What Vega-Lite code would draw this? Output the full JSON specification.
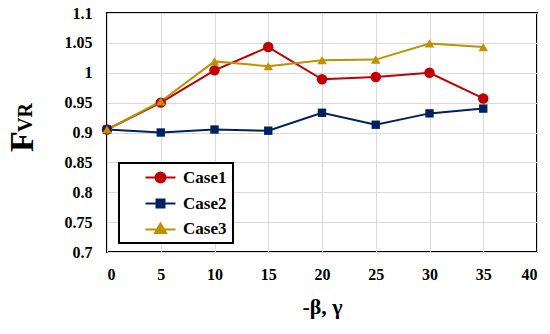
{
  "$schema": "https://vega.github.io/schema/vega-lite/v6.json",
  "width": 430,
  "height": 239,
  "autosize": {"type": "none"},
  "padding": {"left": 107, "top": 13, "right": 13, "bottom": 82},
  "background": "white",
  "config": {
    "view": {"stroke": "black", "strokeWidth": 2},
    "font": "Liberation Serif"
  },
  "data": {
    "values": [
      {"x": 0, "y": 0.905, "c": "Case1"},
      {"x": 5, "y": 0.950, "c": "Case1"},
      {"x": 10, "y": 1.004, "c": "Case1"},
      {"x": 15, "y": 1.043, "c": "Case1"},
      {"x": 20, "y": 0.989, "c": "Case1"},
      {"x": 25, "y": 0.993, "c": "Case1"},
      {"x": 30, "y": 1.000, "c": "Case1"},
      {"x": 35, "y": 0.957, "c": "Case1"},
      {"x": 0, "y": 0.905, "c": "Case2"},
      {"x": 5, "y": 0.900, "c": "Case2"},
      {"x": 10, "y": 0.905, "c": "Case2"},
      {"x": 15, "y": 0.903, "c": "Case2"},
      {"x": 20, "y": 0.933, "c": "Case2"},
      {"x": 25, "y": 0.913, "c": "Case2"},
      {"x": 30, "y": 0.932, "c": "Case2"},
      {"x": 35, "y": 0.940, "c": "Case2"},
      {"x": 0, "y": 0.905, "c": "Case3"},
      {"x": 5, "y": 0.952, "c": "Case3"},
      {"x": 10, "y": 1.019, "c": "Case3"},
      {"x": 15, "y": 1.011, "c": "Case3"},
      {"x": 20, "y": 1.021, "c": "Case3"},
      {"x": 25, "y": 1.022, "c": "Case3"},
      {"x": 30, "y": 1.049, "c": "Case3"},
      {"x": 35, "y": 1.043, "c": "Case3"}
    ]
  },
  "resolve": {"axis": {"y": "independent"}},
  "layer": [
    {
      "mark": {"type": "line", "strokeWidth": 2},
      "encoding": {
        "x": {
          "field": "x", "type": "quantitative",
          "scale": {"domain": [0, 40], "nice": false},
          "axis": {
            "values": [0, 5, 10, 15, 20, 25, 30, 35, 40],
            "title": "-β, γ",
            "titleFont": "Liberation Serif", "titleFontSize": 22, "titleFontWeight": "bold", "titleColor": "black",
            "titlePadding": 14,
            "labelFont": "Liberation Serif", "labelFontSize": 16, "labelFontWeight": "bold", "labelColor": "black",
            "labelPadding": 14, "ticks": false, "tickSize": 0, "domain": false,
            "grid": true, "gridColor": "#D9D9D9", "gridWidth": 1
          }
        },
        "y": {
          "field": "y", "type": "quantitative",
          "scale": {"domain": [0.7, 1.1], "nice": false, "zero": false},
          "axis": {
            "orient": "left",
            "values": [0.7, 0.75, 0.8, 0.85, 0.9, 0.95, 1, 1.05, 1.1],
            "format": "~g",
            "title": "F",
            "titleFont": "Liberation Serif", "titleFontSize": 34, "titleFontWeight": "bold", "titleColor": "black",
            "titleAngle": -90, "titleAlign": "center", "titleBaseline": "middle",
            "titleX": -85, "titleY": 128,
            "labelFont": "Liberation Serif", "labelFontSize": 16, "labelFontWeight": "bold", "labelColor": "black",
            "labelPadding": 15, "ticks": false, "tickSize": 0, "domain": false,
            "grid": true, "gridColor": "#D9D9D9", "gridWidth": 1
          }
        },
        "color": {
          "field": "c", "type": "nominal",
          "scale": {"domain": ["Case1", "Case2", "Case3"], "range": ["#C00000", "#002060", "#BF9000"]},
          "legend": {
            "title": null,
            "orient": "none", "legendX": 12, "legendY": 150,
            "padding": 6,
            "strokeColor": "black", "fillColor": "white",
            "labelFont": "Liberation Serif", "labelFontSize": 17, "labelFontWeight": "bold", "labelColor": "black",
            "symbolSize": 100, "symbolStrokeWidth": 2, "symbolOffset": 27, "labelOffset": 14,
            "rowPadding": 7,
            "encode": {
              "legend": {
                "update": {"strokeWidth": {"value": 2}}
              },
              "labels": {
                "update": {"text": {"signal": "datum.label + '\u2003\u2003\u2003'"}}
              },
              "symbols": {
                "update": {
                  "shape": {"signal": "datum.value == 'Case1' ? 'M-3,0H-1M1,0H3M1,0A1,1 0 1 1 -1,0A1,1 0 1 1 1,0Z' : datum.value == 'Case2' ? 'M-3,0H-0.8M0.8,0H3M-0.8,-0.8H0.8V0.8H-0.8Z' : 'M-3,0.2H-0.65M0.65,0.2H3M0,-1L1.1,0.9H-1.1Z'"},
                  "fill": {"signal": "scale('color', datum.value)"},
                  "stroke": {"signal": "scale('color', datum.value)"},
                  "fillOpacity": {"value": 1}
                }
              }
            }
          }
        }
      }
    },
    {
      "transform": [{"filter": "datum.c == 'Case1'"}],
      "mark": {"type": "point", "shape": "circle", "size": 110, "filled": true, "opacity": 1},
      "encoding": {
        "x": {"field": "x", "type": "quantitative"},
        "y": {
          "field": "y", "type": "quantitative",
          "axis": {
            "orient": "left",
            "values": [0.926],
            "labelExpr": "'VR'",
            "title": null,
            "labelFont": "Liberation Serif", "labelFontSize": 20, "labelFontWeight": "bold", "labelColor": "black",
            "labelAngle": -90, "labelAlign": "center", "labelBaseline": "middle",
            "labelPadding": 82, "ticks": false, "tickSize": 0, "domain": false, "grid": false
          }
        },
        "color": {"field": "c", "type": "nominal", "legend": null}
      }
    },
    {
      "transform": [{"filter": "datum.c == 'Case2'"}],
      "mark": {"type": "point", "shape": "square", "size": 70, "filled": true, "opacity": 1},
      "encoding": {
        "x": {"field": "x", "type": "quantitative"},
        "y": {"field": "y", "type": "quantitative", "axis": null},
        "color": {"field": "c", "type": "nominal", "legend": null}
      }
    },
    {
      "transform": [{"filter": "datum.c == 'Case3'"}],
      "mark": {"type": "point", "shape": "triangle-up", "size": 90, "filled": true, "opacity": 1},
      "encoding": {
        "x": {"field": "x", "type": "quantitative"},
        "y": {"field": "y", "type": "quantitative", "axis": null},
        "color": {"field": "c", "type": "nominal", "legend": null}
      }
    }
  ]
}
